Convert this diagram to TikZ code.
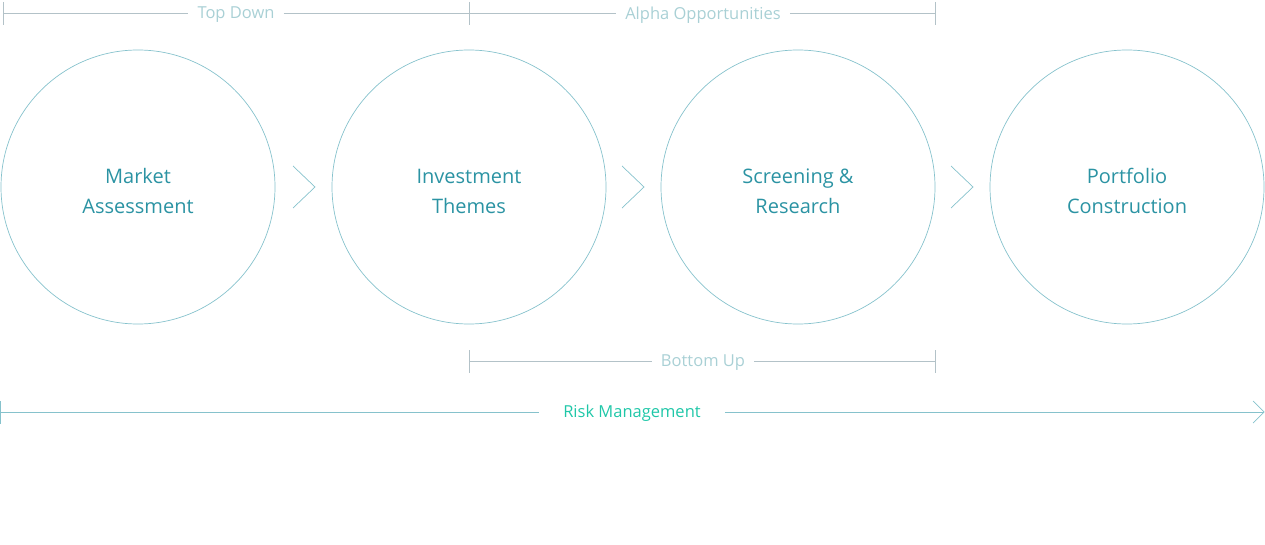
\documentclass[tikz,border=0pt]{standalone}
\usepackage{fontspec}
\setmainfont{Open Sans}
\usetikzlibrary{positioning}
\definecolor{ringcol}{HTML}{86C2CC}
\definecolor{stagecol}{HTML}{2B93A3}
\definecolor{spancol}{HTML}{B3C2C8}
\definecolor{spantext}{HTML}{A9D0D5}
\definecolor{riskcol}{HTML}{1FC7A8}
\tikzset{
  stagering/.style={draw=ringcol, line width=0.7pt, circle, minimum size=274pt,
    inner sep=0pt},
  stagetext/.style={align=center, text=stagecol, yshift=-4pt,
    font=\fontsize{20}{30}\selectfont},
  spanlabel/.style={inner xsep=9pt, inner ysep=2pt, text=spantext,
    font=\fontsize{16.5}{20}\selectfont},
  spanline/.style={draw=spancol, line width=0.7pt},
  chevron/.style={draw=ringcol, line width=0.7pt},
}
\begin{document}
\begin{tikzpicture}[x=1pt,y=-1pt]
\useasboundingbox (0,0) rectangle (1265,545);

\node[stagering, label={[stagetext]center:Market\\ Assessment}] (market) at (138,187) {};
\node[stagering, label={[stagetext]center:Investment\\ Themes}] (themes) at (469,187) {};
\node[stagering, label={[stagetext]center:Screening \&\\ Research}] (screen) at (798,187) {};
\node[stagering, label={[stagetext]center:Portfolio\\ Construction}] (port) at (1127,187) {};

% chevrons between the stages
\foreach \cx in {293,622,951}
  \draw[chevron] (\cx,166) -- (\cx+22,187) -- (\cx,208);

% top spans
\coordinate (td-l) at (3,13);
\coordinate (td-r) at (469,13);
\coordinate (ao-r) at (935,13);
\node[spanlabel] (topdown) at (236,15) {Top Down};
\node[spanlabel] (alpha) at (703,15) {Alpha Opportunities};
\draw[spanline] (td-l) -- (td-l -| topdown.west);
\draw[spanline] (td-r -| topdown.east) -- (td-r);
\draw[spanline] (td-r) -- (td-r -| alpha.west);
\draw[spanline] (ao-r -| alpha.east) -- (ao-r);
\foreach \tx in {3,469,935}
  \draw[spanline] (\tx,2) -- (\tx,25);

% bottom span
\coordinate (bu-l) at (469,361);
\coordinate (bu-r) at (935,361);
\node[spanlabel] (bottomup) at (703,363) {Bottom Up};
\draw[spanline] (bu-l) -- (bu-l -| bottomup.west);
\draw[spanline] (bu-r -| bottomup.east) -- (bu-r);
\draw[spanline] (469,350) -- (469,373);
\draw[spanline] (935,350) -- (935,373);

% risk arrow
\coordinate (rk-l) at (0.5,412);
\coordinate (rk-r) at (1264,412);
\node[spanlabel, text=riskcol, inner xsep=24pt] (risk) at (632,413) {Risk Management};
\draw[chevron] (rk-l) -- (rk-l -| risk.west);
\draw[chevron] (rk-r -| risk.east) -- (rk-r);
\draw[chevron] (0.5,401) -- (0.5,424);
\draw[chevron] (1253,401) -- (rk-r) -- (1253,423);
\end{tikzpicture}
\end{document}
